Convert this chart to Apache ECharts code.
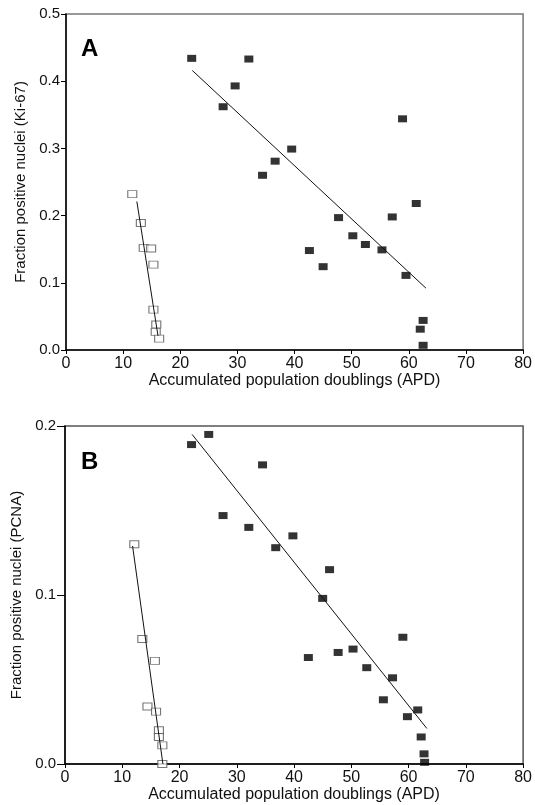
<!DOCTYPE html>
<html>
<head>
<meta charset="utf-8">
<script src="https://cdn.jsdelivr.net/npm/echarts@6/dist/echarts.min.js"></script>
<style>
  html, body { margin: 0; padding: 0; background: #fff; }
  #chart { width: 535px; height: 805px; }
</style>
</head>
<body>
<div id="chart"></div>
<script>
// panel A (Ki-67): [APD, fraction]
var kiFilled = [
  [22.0, 0.434], [27.5, 0.362], [29.6, 0.393], [32.0, 0.433], [34.4, 0.260],
  [36.6, 0.281], [39.5, 0.299], [58.9, 0.344], [42.6, 0.148], [45.0, 0.124],
  [47.7, 0.197], [50.2, 0.170], [52.4, 0.157], [55.3, 0.149], [57.1, 0.198],
  [59.5, 0.111], [61.3, 0.218], [62.5, 0.044], [62.0, 0.031], [62.5, 0.007]
];
var kiOpen = [
  [11.6, 0.232], [13.1, 0.189], [13.6, 0.152], [14.9, 0.151], [15.3, 0.127],
  [15.3, 0.060], [15.8, 0.038], [15.7, 0.027], [16.3, 0.017]
];
var kiFilledFit = [[22.1, 0.416], [63.0, 0.092]];
var kiOpenFit = [[12.4, 0.221], [16.1, 0.021]];

// panel B (PCNA)
var pcnaFilled = [
  [22.1, 0.189], [25.1, 0.195], [34.5, 0.177], [27.6, 0.147], [32.1, 0.140],
  [39.8, 0.135], [36.8, 0.128], [46.2, 0.115], [45.0, 0.098], [42.5, 0.063],
  [47.7, 0.066], [50.3, 0.068], [52.7, 0.057], [57.2, 0.051], [59.0, 0.075],
  [55.6, 0.038], [61.6, 0.032], [59.8, 0.028], [62.2, 0.016], [62.7, 0.006],
  [62.8, 0.001]
];
var pcnaOpen = [
  [12.1, 0.130], [13.5, 0.074], [15.7, 0.061], [14.4, 0.034], [15.9, 0.031],
  [16.4, 0.020], [16.4, 0.016], [17.0, 0.011], [17.0, 0.000]
];
var pcnaFilledFit = [[22.2, 0.195], [63.2, 0.021]];
var pcnaOpenFit = [[11.8, 0.129], [17.1, 0.000]];

var xTitle = "Accumulated population doublings (APD)";
var yTitles = ["Fraction positive nuclei (Ki-67)", "Fraction positive nuclei (PCNA)"];

var font = "Liberation Sans, Arial, Helvetica, sans-serif";
var chart = echarts.init(document.getElementById("chart"));

function xAxisFor(idx) {
  return {
    gridIndex: idx, type: "value", min: 0, max: 80, interval: 10,
    name: xTitle, nameLocation: "middle", nameGap: 22,
    nameTextStyle: { fontFamily: font, fontSize: 16, color: "#111" },
    axisLine: { lineStyle: { color: "#000", width: 1.5 } },
    axisTick: { show: true, length: 4, lineStyle: { color: "#000" } },
    axisLabel: { fontFamily: font, fontSize: 16, color: "#111", margin: 6 },
    splitLine: { show: false }
  };
}
function yAxisFor(idx, max, gap) {
  return {
    gridIndex: idx, type: "value", min: 0, max: max, interval: 0.1,
    name: yTitles[idx], nameLocation: "middle", nameGap: 38,
    nameTextStyle: { fontFamily: font, fontSize: 15, color: "#111" },
    axisLine: { lineStyle: { color: "#000", width: 1.5 } },
    axisTick: { show: true, length: gap, lineStyle: { color: "#000" } },
    axisLabel: { fontFamily: font, fontSize: 15, color: "#111", margin: gap + 1,
      formatter: function (v) { return v.toFixed(1); } },
    splitLine: { show: false }
  };
}
function filled(data, idx) {
  return { type: "scatter", xAxisIndex: idx, yAxisIndex: idx, data: data,
    symbol: "rect", symbolSize: [9, 7], itemStyle: { color: "#000" }, z: 3 };
}
function open(data, idx) {
  return { type: "scatter", xAxisIndex: idx, yAxisIndex: idx, data: data,
    symbol: "rect", symbolSize: [9, 7],
    itemStyle: { color: "#fff", borderColor: "#555", borderWidth: 1 }, z: 3 };
}
function fit(data, idx) {
  return { type: "line", xAxisIndex: idx, yAxisIndex: idx, data: data,
    symbol: "none", lineStyle: { color: "#111", width: 1 }, z: 4 };
}

var option = {
  animation: false,
  backgroundColor: "#fff",
  title: [
    { text: "A", left: 76, top: 32, textStyle: { fontFamily: font, fontSize: 24, fontWeight: "bold", color: "#000" } },
    { text: "B", left: 76, top: 445, textStyle: { fontFamily: font, fontSize: 24, fontWeight: "bold", color: "#000" } }
  ],
  grid: [
    { left: 66, top: 14, width: 459, height: 336, show: true, borderColor: "#777", borderWidth: 1.5 },
    { left: 65, top: 426, width: 459, height: 338, show: true, borderColor: "#555", borderWidth: 1.5 }
  ],
  xAxis: [xAxisFor(0), xAxisFor(1)],
  yAxis: [yAxisFor(0, 0.5, 5), yAxisFor(1, 0.2, 8)],
  series: [
    filled(kiFilled, 0), open(kiOpen, 0), fit(kiFilledFit, 0), fit(kiOpenFit, 0),
    filled(pcnaFilled, 1), open(pcnaOpen, 1), fit(pcnaFilledFit, 1), fit(pcnaOpenFit, 1)
  ]
};
chart.setOption(option);
</script>
</body>
</html>
